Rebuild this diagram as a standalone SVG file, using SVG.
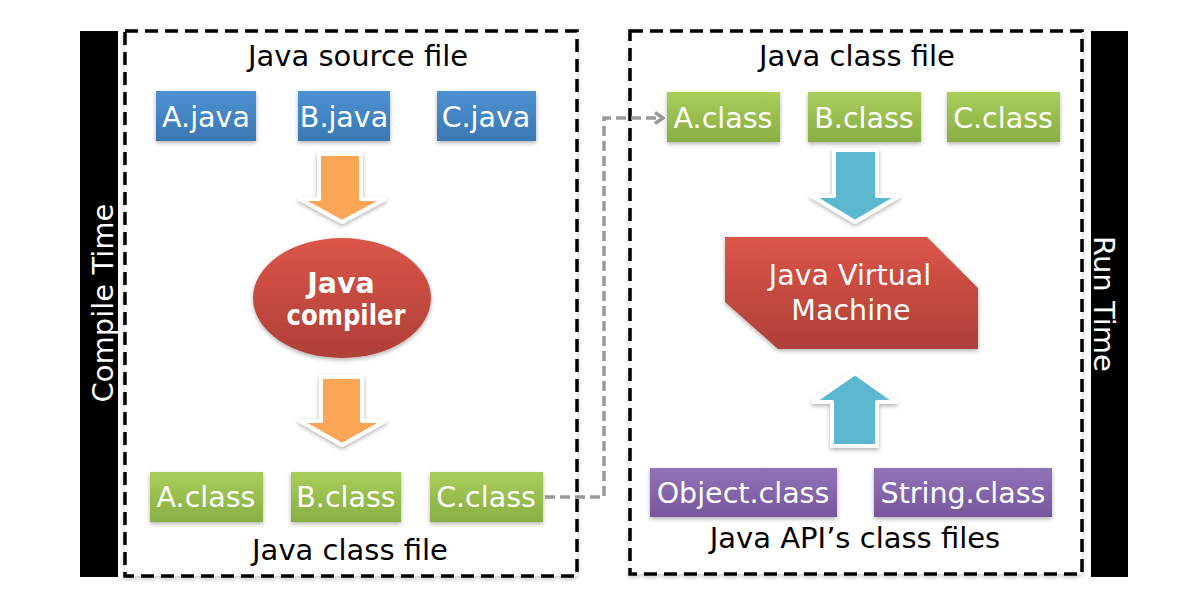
<svg xmlns="http://www.w3.org/2000/svg" width="1189" height="610" viewBox="0 0 1189 610">
<defs>
<linearGradient id="gBlue" x1="0" y1="0" x2="0" y2="1"><stop offset="0" stop-color="#4C92D4"/><stop offset="1" stop-color="#3B77B3"/></linearGradient>
<linearGradient id="gGreen" x1="0" y1="0" x2="0" y2="1"><stop offset="0" stop-color="#A9CE5B"/><stop offset="1" stop-color="#89AE43"/></linearGradient>
<linearGradient id="gPurple" x1="0" y1="0" x2="0" y2="1"><stop offset="0" stop-color="#9173B9"/><stop offset="1" stop-color="#76579D"/></linearGradient>
<linearGradient id="gRed" x1="0" y1="0" x2="0" y2="1"><stop offset="0" stop-color="#DC5549"/><stop offset="1" stop-color="#AE3F37"/></linearGradient>
<filter id="sh" x="-20%" y="-20%" width="140%" height="150%"><feDropShadow dx="0" dy="2" stdDeviation="2" flood-color="#000" flood-opacity="0.3"/></filter>
<filter id="shl" x="-5%" y="-5%" width="110%" height="110%"><feDropShadow dx="0" dy="2" stdDeviation="2" flood-color="#000" flood-opacity="0.2"/></filter>
<marker id="arr" markerWidth="12" markerHeight="14" refX="9" refY="7" orient="auto" markerUnits="userSpaceOnUse"><path d="M2,1.5 L10,7 L2,12.5" fill="none" stroke="#999" stroke-width="3.5"/></marker>
</defs>
<style>
text{font-family:"DejaVu Sans","Liberation Sans",sans-serif}
.lbl{font-size:29px;fill:#000;text-anchor:middle}
.bt{font-size:28.5px;fill:#fff;text-anchor:middle}
.side{font-size:29px;fill:#fff;text-anchor:middle}
.frame{fill:#fff;stroke:#000;stroke-width:3.5;stroke-dasharray:13 7;filter:url(#shl)}
.arrow{stroke:#fff;stroke-width:4;stroke-linejoin:round;filter:url(#sh)}
</style>
<rect width="1189" height="610" fill="#fff"/>
<g id="compile-time"><rect x="80" y="31" width="38" height="546" fill="#000"/><text class="side" transform="translate(113,303) rotate(-90)">Compile Time</text></g>
<g id="run-time"><rect x="1091" y="31" width="37" height="546" fill="#000"/><text class="side" transform="translate(1094,304) rotate(90)">Run Time</text></g>
<g id="compile-frame"><rect class="frame" x="125" y="31" width="452" height="545"/></g>
<g id="run-frame"><rect class="frame" x="630" y="31" width="452" height="543"/></g>
<g id="connectors"><path d="M545 497 H604 V118 H662" fill="none" stroke="#999" stroke-width="3.5" stroke-dasharray="10 5" marker-end="url(#arr)"/></g>
<g id="label-src"><text class="lbl" x="358" y="66">Java source file</text></g>
<g id="a-java"><rect x="156" y="91" width="100" height="50" fill="url(#gBlue)" filter="url(#sh)"/><text class="bt" x="206" y="127">A.java</text></g>
<g id="b-java"><rect x="298" y="91" width="92" height="50" fill="url(#gBlue)" filter="url(#sh)"/><text class="bt" x="344" y="127">B.java</text></g>
<g id="c-java"><rect x="437" y="91" width="99" height="50" fill="url(#gBlue)" filter="url(#sh)"/><text class="bt" x="486" y="127">C.java</text></g>
<g id="arrow-o1"><polygon class="arrow" fill="#FBA657" points="319,154 361,154 361,199 385,199 342,222 300,199 319,199"/></g>
<g id="compiler"><ellipse cx="342" cy="298" rx="89" ry="60" fill="url(#gRed)" filter="url(#sh)"/><text class="bt" x="341" y="293" font-weight="bold" font-size="27">Java</text><text class="bt" x="346" y="325" font-weight="bold" font-size="26" textLength="119" lengthAdjust="spacingAndGlyphs">compiler</text></g>
<g id="arrow-o2"><polygon class="arrow" fill="#FBA657" points="321,377 362,377 362,421 385,421 342,445 300,421 321,421"/></g>
<g id="a-class-l"><rect x="150" y="472" width="113" height="50" fill="url(#gGreen)" filter="url(#sh)"/><text class="bt" x="206" y="507">A.class</text></g>
<g id="b-class-l"><rect x="291" y="472" width="110" height="50" fill="url(#gGreen)" filter="url(#sh)"/><text class="bt" x="346" y="507">B.class</text></g>
<g id="c-class-l"><rect x="430" y="472" width="113" height="50" fill="url(#gGreen)" filter="url(#sh)"/><text class="bt" x="486" y="507">C.class</text></g>
<g id="label-cls-l"><text class="lbl" x="350" y="560">Java class file</text></g>
<g id="label-cls-r"><text class="lbl" x="857" y="66">Java class file</text></g>
<g id="a-class-r"><rect x="667" y="92" width="113" height="50" fill="url(#gGreen)" filter="url(#sh)"/><text class="bt" x="723" y="128">A.class</text></g>
<g id="b-class-r"><rect x="808" y="92" width="113" height="50" fill="url(#gGreen)" filter="url(#sh)"/><text class="bt" x="864" y="128">B.class</text></g>
<g id="c-class-r"><rect x="947" y="92" width="113" height="50" fill="url(#gGreen)" filter="url(#sh)"/><text class="bt" x="1003" y="128">C.class</text></g>
<g id="arrow-c1"><polygon class="arrow" fill="#5BB8D0" points="834,150 877,150 877,196 899,196 855,222 812,196 834,196"/></g>
<g id="jvm"><polygon points="725,237 927,237 978,288 978,349 778,349 725,302" fill="url(#gRed)" filter="url(#sh)"/><text class="bt" x="850" y="285" font-size="27.5">Java Virtual</text><text class="bt" x="851" y="320" font-size="27.5">Machine</text></g>
<g id="arrow-c2"><polygon class="arrow" fill="#5BB8D0" points="855,373 896,402 877,402 877,446 832,446 832,402 813,402"/></g>
<g id="object-class"><rect x="650" y="468" width="187" height="49" fill="url(#gPurple)" filter="url(#sh)"/><text class="bt" x="743" y="503">Object.class</text></g>
<g id="string-class"><rect x="874" y="468" width="178" height="49" fill="url(#gPurple)" filter="url(#sh)"/><text class="bt" x="963" y="503">String.class</text></g>
<g id="label-api"><text class="lbl" x="855" y="548">Java API’s class files</text></g>
</svg>
